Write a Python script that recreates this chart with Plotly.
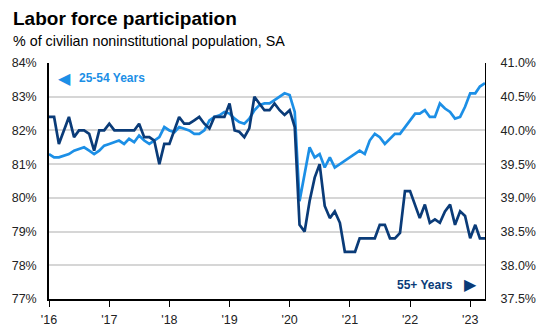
import pandas as pd
import plotly.graph_objects as go

# Monthly observations, Jan 2016 - Apr 2023
months = pd.date_range("2016-01-01", "2023-04-01", freq="MS")

# Participation rate, ages 25-54 (%), left axis
prime_age = [
    81.3, 81.2, 81.2, 81.25, 81.3, 81.4, 81.45, 81.5, 81.4, 81.3, 81.4, 81.55,
    81.6, 81.65, 81.7, 81.6, 81.75, 81.65, 81.85, 81.7, 81.6, 81.7, 81.8, 82.1,
    82.0, 81.95, 82.1, 82.05, 82.0, 81.9, 81.9, 82.0, 82.3, 82.4, 82.45, 82.55,
    82.5, 82.35, 82.25, 82.2, 82.35, 82.6, 82.75, 82.8, 82.8, 82.9, 83.0, 83.1,
    83.05, 82.55, 79.9, 80.7, 81.5, 81.2, 81.3, 80.9, 81.2, 80.9, 81.0, 81.1,
    81.2, 81.3, 81.4, 81.3, 81.7, 81.9, 81.8, 81.6, 81.75, 81.9, 81.9, 82.1,
    82.3, 82.5, 82.5, 82.6, 82.4, 82.4, 82.8, 82.65, 82.55, 82.35, 82.4, 82.7,
    83.1, 83.1, 83.3, 83.4,
]

# Participation rate, ages 55+ (%), right axis
older = [
    40.2, 40.2, 39.8, 40.0, 40.2, 39.9, 40.0, 40.0, 39.95, 39.7, 40.0, 40.0,
    40.1, 40.0, 40.0, 40.0, 40.0, 40.0, 40.1, 39.9, 39.9, 39.85, 39.5, 39.8,
    39.8, 40.0, 40.2, 40.1, 40.1, 40.15, 40.2, 40.1, 40.03, 40.2, 40.2, 40.2,
    40.4, 40.0, 39.98, 39.9, 40.03, 40.5, 40.4, 40.3, 40.3, 40.4, 40.3, 40.23,
    40.3, 40.05, 38.6, 38.5, 38.95, 39.3, 39.5, 38.88, 38.7, 38.8, 38.63, 38.2,
    38.2, 38.2, 38.4, 38.4, 38.4, 38.4, 38.6, 38.6, 38.4, 38.4, 38.48, 39.1,
    39.1, 38.9, 38.7, 38.9, 38.63, 38.68, 38.63, 38.8, 38.9, 38.6, 38.8, 38.73,
    38.4, 38.6, 38.4, 38.4,
]

year_ticks = pd.date_range("2016-01-01", "2023-01-01", freq="YS")
year_labels = ["'16", "'17", "'18", "'19", "'20", "'21", "'22", "'23"]

left_ticks = [77, 78, 79, 80, 81, 82, 83, 84]
left_labels = [f"{v}%" for v in left_ticks]
right_ticks = [37.5, 38.0, 38.5, 39.0, 39.5, 40.0, 40.5, 41.0]
right_labels = [f"{v:.1f}%" for v in right_ticks]

LIGHT = "#1c8fe6"
DARK = "#0a3b78"
FONT = "Liberation Sans, Arial, sans-serif"
TICK_FONT = dict(family=FONT, size=12.5, color="#222222")

fig = go.Figure()
fig.add_trace(go.Scatter(
    x=months, y=prime_age, mode="lines", name="25-54 Years",
    line=dict(color=LIGHT, width=2.7), yaxis="y",
))
fig.add_trace(go.Scatter(
    x=months, y=older, mode="lines", name="55+ Years",
    line=dict(color=DARK, width=2.7), yaxis="y2",
))

fig.update_layout(
    width=543, height=333,
    margin=dict(l=49, r=58, t=63, b=34),
    paper_bgcolor="white", plot_bgcolor="white",
    showlegend=False, hovermode=False,
    xaxis=dict(
        range=[months[0], months[-1]], automargin=False,
        tickvals=year_ticks, ticktext=year_labels,
        ticks="outside", ticklen=6, tickcolor="black", tickwidth=1,
        ticklabelstandoff=2,
        showline=True, linecolor="black", linewidth=1.5,
        showgrid=False, zeroline=False, tickfont=TICK_FONT,
    ),
    yaxis=dict(
        range=[77, 84], tickvals=left_ticks, ticktext=left_labels,
        automargin=False,
        showline=True, linecolor="black", linewidth=1.5,
        showgrid=True, gridcolor="#d6d6d6", gridwidth=1.5,
        zeroline=False, ticks="", ticklabelstandoff=8, tickfont=TICK_FONT,
    ),
    yaxis2=dict(
        range=[37.5, 41], tickvals=right_ticks, ticktext=right_labels,
        overlaying="y", side="right", automargin=False,
        showline=True, linecolor="black", linewidth=1,
        showgrid=False, zeroline=False, ticks="", ticklabelstandoff=12,
        tickfont=TICK_FONT,
    ),
)

annotations = [
    dict(text="<b>Labor force participation</b>", x=11, y=18,
         font=dict(family=FONT, size=19, color="black")),
    dict(text="% of civilian noninstitutional population, SA", x=11, y=41,
         font=dict(family=FONT, size=14.3, color="black")),
]
for a in annotations:
    fig.add_annotation(
        text=a["text"], xref="paper", yref="paper",
        x=(a["x"] - 49) / 436, y=1 + (63 - a["y"]) / 236,
        xanchor="left", yanchor="middle", showarrow=False, font=a["font"],
    )

# Series labels inside the plot area
fig.add_annotation(text="\u25C0", xref="paper", yref="paper",
                   x=(56 - 49) / 436, y=1 - (78 - 63) / 236,
                   xanchor="left", yanchor="middle", showarrow=False,
                   font=dict(family="DejaVu Sans", size=16, color=LIGHT))
fig.add_annotation(text="<b>25-54 Years</b>", xref="paper", yref="paper",
                   x=(77 - 49) / 436, y=1 - (78 - 63) / 236,
                   xanchor="left", yanchor="middle", showarrow=False,
                   font=dict(family=FONT, size=12, color=LIGHT))
fig.add_annotation(text="<b>55+ Years</b>", xref="paper", yref="paper",
                   x=(455 - 49) / 436, y=1 - (285 - 63) / 236,
                   xanchor="right", yanchor="middle", showarrow=False,
                   font=dict(family=FONT, size=12, color=DARK))
fig.add_annotation(text="\u25B6", xref="paper", yref="paper",
                   x=(479 - 49) / 436, y=1 - (284 - 63) / 236,
                   xanchor="right", yanchor="middle", showarrow=False,
                   font=dict(family="DejaVu Sans", size=16, color=DARK))

fig.write_html("out.html")
